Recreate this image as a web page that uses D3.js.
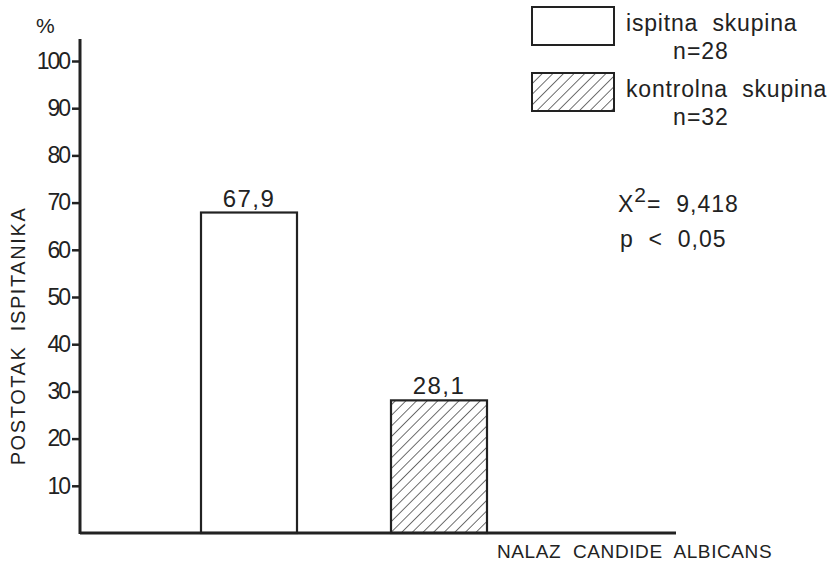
<!DOCTYPE html>
<html><head><meta charset="utf-8">
<script src="https://cdn.jsdelivr.net/npm/d3@7"></script>
<style>body{margin:0;background:#fff}svg{display:block}text{font-family:"Liberation Sans",sans-serif;fill:#222;white-space:pre}</style>
</head><body><div id="chart"></div>
<script>
const categories = ["ispitna skupina", "kontrolna skupina"];
const values = [67.9, 28.1];
const valueLabels = ["67,9", "28,1"];
const groupN = ["n=28", "n=32"];
const yTicks = [10, 20, 30, 40, 50, 60, 70, 80, 90, 100];

const W = 834, H = 563;
const svg = d3.select("#chart").append("svg").attr("width", W).attr("height", H);
const defs = svg.append("defs");
const pat = defs.append("pattern").attr("id","hatch").attr("patternUnits","userSpaceOnUse")
  .attr("width",7.5).attr("height",10).attr("patternTransform","rotate(45)");
pat.append("line").attr("x1",0).attr("y1",0).attr("x2",0).attr("y2",10).attr("stroke","#222").attr("stroke-width",1.3);

const y = d3.scaleLinear().domain([0, 100]).range([533, 61]);
const x = d3.scaleOrdinal().domain(categories).range([201, 391]);
const bw = 96;

// bars
svg.selectAll("rect.bar").data(values).join("rect")
  .attr("x",(d,i)=>x(categories[i])).attr("y",d=>y(d))
  .attr("width",bw).attr("height",d=>y(0)-y(d))
  .attr("fill",(d,i)=>i===0?"#fff":"url(#hatch)")
  .attr("stroke","#222").attr("stroke-width",2.2);

svg.selectAll("text.val").data(values).join("text")
  .attr("x",(d,i)=>x(categories[i])+bw/2).attr("y",d=>y(d)-6)
  .attr("text-anchor","middle").attr("font-size",24).attr("letter-spacing",1.5).text((d,i)=>valueLabels[i]);

// y axis
const yAxis = d3.axisLeft(y).tickValues(yTicks).tickSize(8).tickPadding(3).tickFormat(d3.format("d"));
const gy = svg.append("g").attr("transform","translate(80,0)").call(yAxis);
gy.select(".domain").remove();
gy.selectAll(".tick line").attr("stroke","#222").attr("stroke-width",2.5);
gy.selectAll(".tick text").attr("font-size",23).attr("fill","#222")
  .attr("font-family",'"Liberation Sans",sans-serif').attr("letter-spacing",-2);
svg.append("line").attr("x1",80).attr("x2",80).attr("y1",39).attr("y2",534).attr("stroke","#222").attr("stroke-width",3);
// x axis
svg.append("line").attr("x1",80).attr("x2",676).attr("y1",533).attr("y2",533).attr("stroke","#222").attr("stroke-width",3);

svg.append("text").attr("x",36).attr("y",33).attr("font-size",21).text("%");
svg.append("text").attr("transform","translate(25,336) rotate(-90)").attr("text-anchor","middle")
  .attr("font-size",20).attr("letter-spacing",1.6).text("POSTOTAK  ISPITANIKA");
svg.append("text").attr("x",497).attr("y",558).attr("font-size",19).attr("letter-spacing",0.6).text("NALAZ  CANDIDE  ALBICANS");

// legend
const leg = svg.append("g");
[0,1].forEach(i=>{
  const ly = i===0?7:73;
  leg.append("rect").attr("x",532).attr("y",ly).attr("width",82).attr("height",38)
    .attr("fill",i===0?"#fff":"url(#hatch)").attr("stroke","#222").attr("stroke-width",2);
  leg.append("text").attr("x",626).attr("y",ly+24).attr("font-size",23).attr("letter-spacing",0.8).text(categories[i].replace(" ","  "));
  leg.append("text").attr("x",701).attr("y",ly+52).attr("text-anchor","middle").attr("font-size",23).attr("letter-spacing",1).text(groupN[i]);
});

// statistics
const st = svg.append("text").attr("x",618).attr("y",212).attr("font-size",23).attr("letter-spacing",1);
st.append("tspan").text("X");
st.append("tspan").attr("dy",-10).attr("font-size",21).text("2");
st.append("tspan").attr("dy",10).text("=  9,418");
svg.append("text").attr("x",620).attr("y",247).attr("font-size",23).attr("letter-spacing",1).text("p  <  0,05");
</script></body></html>
